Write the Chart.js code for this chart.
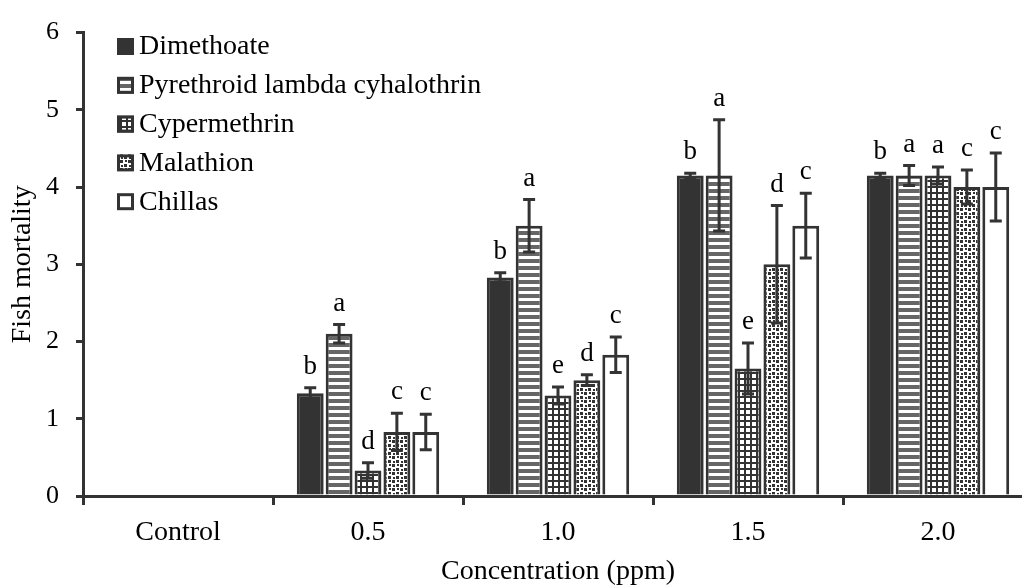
<!DOCTYPE html>
<html>
<head>
<meta charset="utf-8">
<script src="https://cdn.jsdelivr.net/npm/chart.js@4.4.0/dist/chart.umd.min.js"></script>
<style>
	html, body { margin: 0; padding: 0; overflow: hidden; background: #fff; }
	#wrap { width: 1033px; height: 588px; }
</style>
</head>
<body>
<div id="wrap"><canvas id="myChart" width="1033" height="588"></canvas></div>
<script>
let categorias = ["Control", "0.5", "1.0", "1.5", "2.0"]
let nomes = ["Dimethoate", "Pyrethroid lambda cyhalothrin", "Cypermethrin", "Malathion", "Chillas"]

let dimethoate = [0, 1.33, 2.83, 4.15, 4.15]
let pyrethroid = [0, 2.1, 3.5, 4.15, 4.15]
let cypermethrin = [0, 0.33, 1.3, 1.65, 4.15]
let malathion = [0, 0.83, 1.5, 3.0, 4.0]
let chillas = [0, 0.83, 1.83, 3.5, 4.0]

let erroDimethoate = [0, 0.07, 0.06, 0.03, 0.03]
let erroPyrethroid = [0, 0.12, 0.34, 0.72, 0.13]
let erroCypermethrin = [0, 0.1, 0.11, 0.33, 0.11]
let erroMalathion = [0, 0.24, 0.07, 0.76, 0.22]
let erroChillas = [0, 0.23, 0.23, 0.42, 0.44]

let letrasDimethoate = ["", "b", "b", "b", "b"]
let letrasPyrethroid = ["", "a", "a", "a", "a"]
let letrasCypermethrin = ["", "d", "e", "e", "a"]
let letrasMalathion = ["", "c", "d", "d", "c"]
let letrasChillas = ["", "c", "c", "c", "c"]

let yTicks = [0, 1, 2, 3, 4, 5, 6]

const escuro = "#333333"
const fonte = "'Liberation Serif', 'Times New Roman', serif"

const ctx1 = document.getElementById("myChart");
const c = ctx1.getContext("2d");

// padroes de preenchimento
function padraoListras() {
	let p = document.createElement("canvas");
	p.width = 7; p.height = 7;
	let g = p.getContext("2d");
	g.fillStyle = "#ffffff"; g.fillRect(0, 0, 7, 7);
	g.fillStyle = "#666666"; g.fillRect(0, 0, 7, 4);
	return c.createPattern(p, "repeat");
}

function padraoGrade() {
	let p = document.createElement("canvas");
	p.width = 6; p.height = 6;
	let g = p.getContext("2d");
	g.fillStyle = escuro; g.fillRect(0, 0, 6, 6);
	g.fillStyle = "#ffffff"; g.fillRect(2, 2, 4, 4);
	return c.createPattern(p, "repeat");
}

function padraoPontos() {
	let p = document.createElement("canvas");
	p.width = 8; p.height = 8;
	let g = p.getContext("2d");
	g.fillStyle = "#ffffff"; g.fillRect(0, 0, 8, 8);
	g.fillStyle = escuro;
	g.fillRect(0, 0, 3, 3);
	g.fillRect(4, 4, 3, 3);
	g.fillRect(5, 0, 2, 2);
	g.fillRect(1, 5, 2, 2);
	return c.createPattern(p, "repeat");
}

let cores = [escuro, padraoListras(), padraoGrade(), padraoPontos(), "#ffffff"]
let erros = [erroDimethoate, erroPyrethroid, erroCypermethrin, erroMalathion, erroChillas]
let letras = [letrasDimethoate, letrasPyrethroid, letrasCypermethrin, letrasMalathion, letrasChillas]
let valores = [dimethoate, pyrethroid, cypermethrin, malathion, chillas]

const barrasErro = {
	id: "barrasErro",
	afterDatasetsDraw(chart) {
		const g = chart.ctx;
		const y = chart.scales.y;
		g.save();
		g.strokeStyle = escuro;
		g.lineWidth = 3;
		g.fillStyle = "#000";
		g.font = "27px " + fonte;
		g.textAlign = "center";
		g.textBaseline = "middle";
		chart.data.datasets.forEach((ds, i) => {
			const meta = chart.getDatasetMeta(i);
			meta.data.forEach((bar, j) => {
				const v = ds.data[j];
				if (!v) return;
				const e = erros[i][j];
				const topo = y.getPixelForValue(v + e);
				const base = y.getPixelForValue(v - e);
				g.beginPath();
				g.moveTo(bar.x, topo); g.lineTo(bar.x, base);
				g.moveTo(bar.x - 6, topo); g.lineTo(bar.x + 6, topo);
				g.moveTo(bar.x - 6, base); g.lineTo(bar.x + 6, base);
				g.stroke();
				g.fillText(letras[i][j], bar.x, topo - 21);
			});
		});
		g.restore();
	}
};

const legenda = {
	id: "legenda",
	afterDraw(chart) {
		const g = chart.ctx;
		g.save();
		g.font = "28px " + fonte;
		g.textBaseline = "middle";
		g.textAlign = "left";
		chart.data.datasets.forEach((ds, i) => {
			const yc = 46 + i * 38.8;
			g.fillStyle = ds.backgroundColor;
			g.fillRect(117, yc - 8, 17, 17);
			g.strokeStyle = escuro;
			g.lineWidth = 3;
			g.strokeRect(118.5, yc - 6.5, 14, 14);
			g.fillStyle = "#000";
			g.fillText(ds.label, 139, yc + 1);
		});
		g.restore();
	}
};

let grafico1 = new Chart(ctx1, {
	type: "bar",
	data: {
		labels: categorias,
		datasets: valores.map((v, i) => ({
			label: nomes[i],
			data: v,
			backgroundColor: cores[i],
			borderColor: escuro,
			borderWidth: 3,
			borderSkipped: "start",
			barPercentage: 0.93,
			categoryPercentage: 0.76,
		})),
	},
	options: {
		responsive: false,
		animation: false,
		layout: { padding: { top: 22, left: 0, right: 0, bottom: 0 } },
		plugins: {
			legend: { display: false },
			tooltip: { enabled: false },
		},
		scales: {
			x: {
				grid: { drawOnChartArea: false, drawTicks: true, tickLength: 9, color: escuro, lineWidth: 3, offset: true },
				border: { display: true, color: escuro, width: 3 },
				ticks: { color: "#000", font: { family: fonte, size: 28 }, padding: 11, maxRotation: 0 },
				title: { display: true, text: "Concentration (ppm)", color: "#000", font: { family: fonte, size: 28 }, padding: 0 },
				afterFit: (s) => { s.height = 92 },
			},
			y: {
				min: 0,
				max: 6,
				afterBuildTicks: (s) => { s.ticks = yTicks.map((v) => ({ value: v })) },
				grid: { drawOnChartArea: false, drawTicks: true, tickLength: 7, color: escuro, lineWidth: 3 },
				border: { display: true, color: escuro, width: 3 },
				ticks: { color: "#000", font: { family: fonte, size: 26 }, padding: 17 },
				title: { display: true, text: "Fish mortality", color: "#000", font: { family: fonte, size: 28 }, padding: { top: 6, bottom: 0 } },
				afterFit: (s) => { s.width = 83 },
			},
		},
	},
	plugins: [barrasErro, legenda],
});
</script>
</body>
</html>
